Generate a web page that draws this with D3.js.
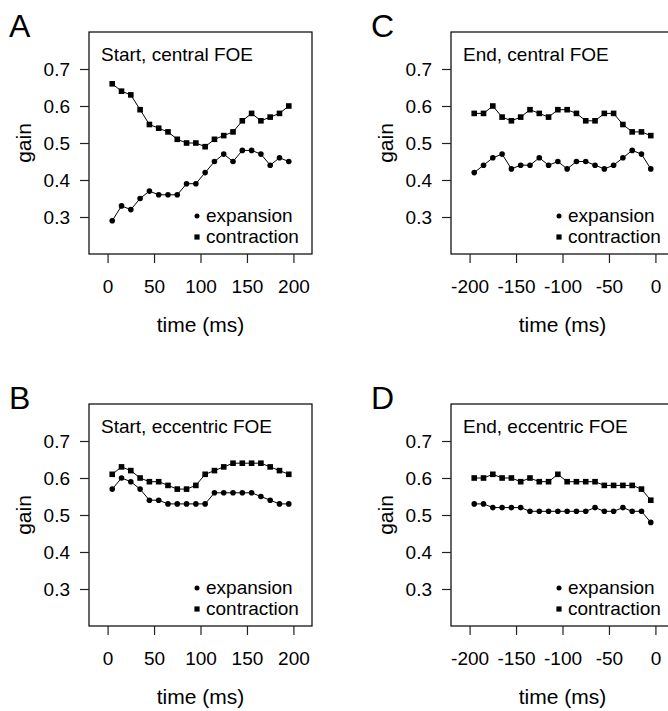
<!DOCTYPE html>
<html>
<head>
<meta charset="utf-8">
<script src="https://cdn.jsdelivr.net/npm/d3@7"></script>
<style>
  body { margin: 0; background: #fff; }
  svg { display: block; font-family: "Liberation Sans", Arial, Helvetica, sans-serif; }
</style>
</head>
<body>
<div class="canvas"></div>
<script>
// time points (ms)
const startTimes = [5, 15, 25, 35, 45, 55, 65, 75, 85, 95, 105, 115, 125, 135, 145, 155, 165, 175, 185, 195];
const endTimes = [-195, -185, -175, -165, -155, -145, -135, -125, -115, -105, -95, -85, -75, -65, -55, -45, -35, -25, -15, -5];

// gain values
const startCentralExpansion = [0.29, 0.33, 0.32, 0.35, 0.37, 0.36, 0.36, 0.36, 0.39, 0.39, 0.42, 0.45, 0.47, 0.45, 0.48, 0.48, 0.47, 0.44, 0.46, 0.45];
const startCentralContraction = [0.66, 0.64, 0.63, 0.59, 0.55, 0.54, 0.53, 0.51, 0.50, 0.50, 0.49, 0.51, 0.52, 0.53, 0.56, 0.58, 0.56, 0.57, 0.58, 0.60];
const endCentralExpansion = [0.42, 0.44, 0.46, 0.47, 0.43, 0.44, 0.44, 0.46, 0.44, 0.45, 0.43, 0.45, 0.45, 0.44, 0.43, 0.44, 0.46, 0.48, 0.47, 0.43];
const endCentralContraction = [0.58, 0.58, 0.60, 0.57, 0.56, 0.57, 0.59, 0.58, 0.57, 0.59, 0.59, 0.58, 0.56, 0.56, 0.58, 0.58, 0.55, 0.53, 0.53, 0.52];
const startEccentricExpansion = [0.57, 0.60, 0.59, 0.57, 0.54, 0.54, 0.53, 0.53, 0.53, 0.53, 0.53, 0.56, 0.56, 0.56, 0.56, 0.56, 0.55, 0.54, 0.53, 0.53];
const startEccentricContraction = [0.61, 0.63, 0.62, 0.60, 0.59, 0.59, 0.58, 0.57, 0.57, 0.58, 0.61, 0.62, 0.63, 0.64, 0.64, 0.64, 0.64, 0.63, 0.62, 0.61];
const endEccentricExpansion = [0.53, 0.53, 0.52, 0.52, 0.52, 0.52, 0.51, 0.51, 0.51, 0.51, 0.51, 0.51, 0.51, 0.52, 0.51, 0.51, 0.52, 0.51, 0.51, 0.48];
const endEccentricContraction = [0.60, 0.60, 0.61, 0.60, 0.60, 0.59, 0.60, 0.59, 0.59, 0.61, 0.59, 0.59, 0.59, 0.59, 0.58, 0.58, 0.58, 0.58, 0.57, 0.54];

// tick labels
const yTicks = [0.3, 0.4, 0.5, 0.6, 0.7];
const startTicks = [0, 50, 100, 150, 200];
const endTicks = [-200, -150, -100, -50, 0];
const legendLabels = ['expansion', 'contraction'];

const dim = { width: 668, height: 711, boxW: 223, boxH: 222 };

const panels = [
    { letter: 'A', title: 'Start, central FOE', left: 89, top: 32, times: startTimes, ticks: startTicks, xDomain: [-20, 220],
      exp: startCentralExpansion, con: startCentralContraction },
    { letter: 'B', title: 'Start, eccentric FOE', left: 89, top: 404, times: startTimes, ticks: startTicks, xDomain: [-20, 220],
      exp: startEccentricExpansion, con: startEccentricContraction },
    { letter: 'C', title: 'End, central FOE', left: 451, top: 32, times: endTimes, ticks: endTicks, xDomain: [-220, 20],
      exp: endCentralExpansion, con: endCentralContraction },
    { letter: 'D', title: 'End, eccentric FOE', left: 451, top: 404, times: endTimes, ticks: endTicks, xDomain: [-220, 20],
      exp: endEccentricExpansion, con: endEccentricContraction }
];

const svg = d3.select('.canvas')
    .append('svg')
    .attr('width', dim.width)
    .attr('height', dim.height);

svg.append('rect')
    .attr('width', dim.width)
    .attr('height', dim.height)
    .attr('fill', '#fff');

const y = d3.scaleLinear().domain([0.2, 0.8]).range([dim.boxH, 0]);

panels.forEach(p => {
    const x = d3.scaleLinear().domain(p.xDomain).range([0, dim.boxW]);

    // panel letter
    svg.append('text')
        .attr('x', p.left - 80)
        .attr('y', p.top + 5)
        .attr('font-size', 32)
        .text(p.letter);

    const g = svg.append('g')
        .attr('transform', `translate(${p.left},${p.top})`);

    // box
    g.append('rect')
        .attr('width', dim.boxW)
        .attr('height', dim.boxH)
        .attr('fill', 'none')
        .attr('stroke', '#000')
        .attr('stroke-width', 1.2);

    // axes (plain hyphen for negatives, like the original)
    const yAxis = g.append('g')
        .call(d3.axisLeft(y).tickValues(yTicks).tickFormat(d3.format('.1f')).tickSize(9).tickPadding(10));
    const xAxis = g.append('g')
        .attr('transform', `translate(0,${dim.boxH})`)
        .call(d3.axisBottom(x).tickValues(p.ticks).tickFormat(d => String(d)).tickSize(9).tickPadding(17));
    [yAxis, xAxis].forEach(a => {
        a.select('.domain').remove();
        a.selectAll('line').attr('stroke', '#222').attr('stroke-width', 1.2);
        a.selectAll('text')
            .attr('font-size', 19)
            .attr('font-family', '"Liberation Sans", Arial, sans-serif')
            .attr('fill', '#000');
    });

    // axis titles
    g.append('text')
        .attr('x', dim.boxW / 2)
        .attr('y', dim.boxH + 78)
        .attr('text-anchor', 'middle')
        .attr('font-size', 21)
        .text('time (ms)');
    g.append('text')
        .attr('transform', `translate(${-58},${dim.boxH / 2}) rotate(-90)`)
        .attr('text-anchor', 'middle')
        .attr('font-size', 21)
        .text('gain');

    // title
    g.append('text')
        .attr('x', 12)
        .attr('y', 29)
        .attr('font-size', 19)
        .text(p.title);

    const line = d3.line()
        .x((d, i) => x(p.times[i]))
        .y(d => y(d));

    // contraction: squares
    g.append('path')
        .attr('d', line(p.con))
        .attr('fill', 'none')
        .attr('stroke', '#000')
        .attr('stroke-width', 1);
    g.selectAll('rect.con')
        .data(p.con)
        .enter()
        .append('rect')
        .attr('class', 'con')
        .attr('x', (d, i) => x(p.times[i]) - 2.8)
        .attr('y', d => y(d) - 2.8)
        .attr('width', 5.6)
        .attr('height', 5.6)
        .attr('fill', '#000');

    // expansion: dots
    g.append('path')
        .attr('d', line(p.exp))
        .attr('fill', 'none')
        .attr('stroke', '#000')
        .attr('stroke-width', 1);
    g.selectAll('circle.exp')
        .data(p.exp)
        .enter()
        .append('circle')
        .attr('class', 'exp')
        .attr('cx', (d, i) => x(p.times[i]))
        .attr('cy', d => y(d))
        .attr('r', 2.8)
        .attr('fill', '#000');

    // legend
    const legend = g.append('g')
        .attr('transform', `translate(${dim.boxW - 115},${dim.boxH - 38})`);
    legendLabels.forEach((lab, i) => {
        if (i === 0) {
            legend.append('circle').attr('cx', 0).attr('cy', i * 21).attr('r', 2.5).attr('fill', '#000');
        } else {
            legend.append('rect').attr('x', -2.6).attr('y', i * 21 - 2.6).attr('width', 5.2).attr('height', 5.2).attr('fill', '#000');
        }
        legend.append('text')
            .attr('x', 9)
            .attr('y', i * 21 + 6)
            .attr('font-size', 19)
            .text(lab);
    });
});
</script>
</body>
</html>
